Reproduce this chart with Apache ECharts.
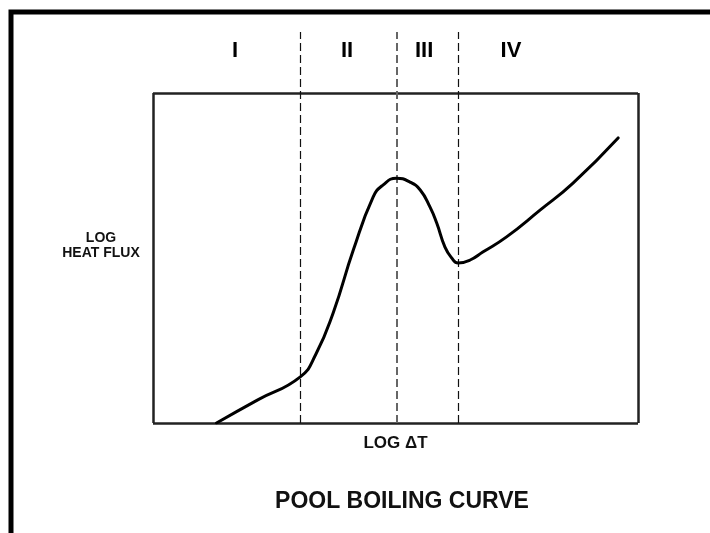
<!DOCTYPE html>
<html>
<head>
<meta charset="utf-8">
<script src="https://cdn.jsdelivr.net/npm/echarts@6/dist/echarts.min.js"></script>
<style>
html,body{margin:0;padding:0;background:#fff;}
#chart{width:710px;height:533px;}
</style>
</head>
<body>
<div id="chart"></div>
<script>
// Pool boiling curve (log-log, schematic)
const curveX = [13.1, 21.6, 30.3, 33.6, 37.2, 41.3, 45.4, 47.4, 50.2, 53.0, 55.1, 57.1, 58.5, 60.2, 61.6, 62.9, 65.4, 68.0, 72.9, 79.8, 86.6, 95.9];
const curveY = [0.0, 7.0, 13.9, 20.9, 33.6, 52.4, 68.5, 72.1, 74.2, 73.0, 70.6, 65.5, 60.6, 53.3, 50.0, 48.5, 49.4, 51.8, 56.4, 64.5, 72.7, 86.4];
const regionBounds = [30.3, 50.3, 62.9];
const regionLabels = ['I', 'II', 'III', 'IV'];
const regionLabelX = [16.9, 40.0, 55.9, 73.8];
const regionLabelY = 112.7;
const boxMin = 0, boxMax = 100;
const yTop = 118.5;
const xAxisLabel = 'LOG \u0394T';
const yAxisLabel = 'LOG\nHEAT FLUX';
const chartTitle = 'POOL BOILING CURVE';

const FONT = '"Liberation Sans", Arial, sans-serif';
const chart = echarts.init(document.getElementById('chart'));

const curveData = curveX.map((x, i) => [x, curveY[i]]);
const labelData = regionLabels.map((t, i) => ({ value: [regionLabelX[i], regionLabelY], name: t }));

const option = {
  animation: false,
  backgroundColor: '#ffffff',
  grid: { left: 153, right: 72, top: 32, bottom: 110 },
  xAxis: {
    type: 'value', min: boxMin, max: boxMax,
    axisLine: { show: false }, axisTick: { show: false }, axisLabel: { show: false }, splitLine: { show: false },
    name: xAxisLabel, nameLocation: 'middle', nameGap: 12,
    nameTextStyle: { fontFamily: FONT, fontWeight: 'bold', fontSize: 17, color: '#111' }
  },
  yAxis: {
    type: 'value', min: boxMin, max: yTop,
    axisLine: { show: false }, axisTick: { show: false }, axisLabel: { show: false }, splitLine: { show: false }
  },
  graphic: [
    { type: 'rect', shape: { x: 11, y: 12, width: 800, height: 600 }, style: { fill: 'none', stroke: '#000', lineWidth: 5 }, z: 100 },
    { type: 'text', x: 101, y: 246, style: { text: yAxisLabel, align: 'center', verticalAlign: 'middle', font: 'bold 14px ' + FONT, fill: '#111', lineHeight: 15 } },
    { type: 'text', x: 402, y: 502, style: { text: chartTitle, align: 'center', verticalAlign: 'middle', font: 'bold 23px ' + FONT, fill: '#111' } }
  ],
  series: [
    {
      type: 'line', data: [], silent: true,
      markLine: {
        symbol: 'none', silent: true, animation: false,
        label: { show: false },
        lineStyle: { color: '#222', width: 2.5, type: 'solid' },
        data: [
          [{ coord: [boxMin, boxMin] }, { coord: [boxMin, boxMax] }],
          [{ coord: [boxMax, boxMin] }, { coord: [boxMax, boxMax] }],
          [{ coord: [boxMin, boxMax] }, { coord: [boxMax, boxMax] }],
          [{ coord: [boxMin, boxMin] }, { coord: [boxMax, boxMin] }]
        ]
      }
    },
    {
      type: 'line', data: [], silent: true, z: 3,
      markLine: {
        symbol: 'none', silent: true, animation: false,
        label: { show: false },
        data: regionBounds.map((x, i) => ({
          xAxis: x,
          lineStyle: i === 1 ? { color: '#666', width: 2, type: [8, 4] } : { color: '#111', width: 1.2, type: [8, 4] }
        }))
      }
    },
    {
      type: 'line', data: curveData, smooth: 0.5, symbol: 'none', z: 5,
      lineStyle: { color: '#000', width: 3, cap: 'round', join: 'round' }
    },
    {
      type: 'scatter', data: labelData, symbolSize: 0, silent: true,
      itemStyle: { opacity: 1 },
      label: { show: true, position: 'inside', formatter: p => p.name, fontFamily: FONT, fontWeight: 'bold', fontSize: 22, color: '#000', opacity: 1 }
    }
  ]
};
chart.setOption(option);
</script>
</body>
</html>
